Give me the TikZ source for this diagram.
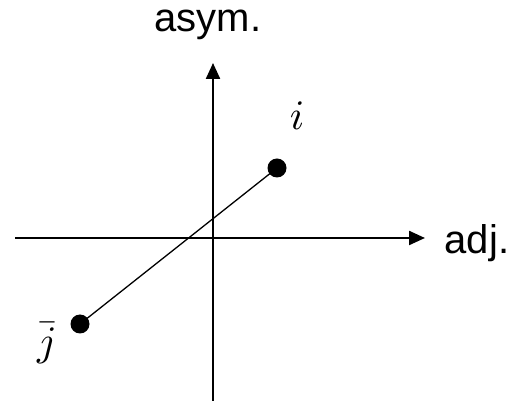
\documentclass[tikz,border=0pt]{standalone}
\usepackage{graphicx}
\usepackage{fontspec}
\setsansfont{Liberation Sans}
\usetikzlibrary{arrows.meta}
\begin{document}
\begin{tikzpicture}[x=1pt,y=-1pt,
  axis/.style={line width=2.3pt,-{Triangle[length=16pt,width=14pt]}},
  dot/.style={fill=black,circle,inner sep=0pt,minimum size=19pt},
  lbl/.style={font=\sffamily\fontsize{40}{44}\selectfont,inner sep=0pt},
  mlbl/.style={inner sep=0pt}]
\useasboundingbox (0,0) rectangle (512,403);
\coordinate (vb) at (213,401);
\coordinate (vt) at (213,63);
\coordinate (hl) at (15,238);
\coordinate (hr) at (425,238);
\draw[axis] (vb) -- (vt);
\draw[axis] (hl) -- (hr);
\node[dot] (i) at (277,168) {};
\node[dot] (j) at (80,324) {};
\draw[line width=1.3pt] (i.center) -- (j.center);
\node[lbl] (asym) at (208,25) {asym.};
\node[lbl] (adj) at (477,243) {adj.};
\node[mlbl] (il) at (297,116) {\scalebox{4.2}{$i$}};
\node[mlbl] (jl) at (47,343) {\scalebox{4.2}{$\bar{j}$}};
\end{tikzpicture}
\end{document}
